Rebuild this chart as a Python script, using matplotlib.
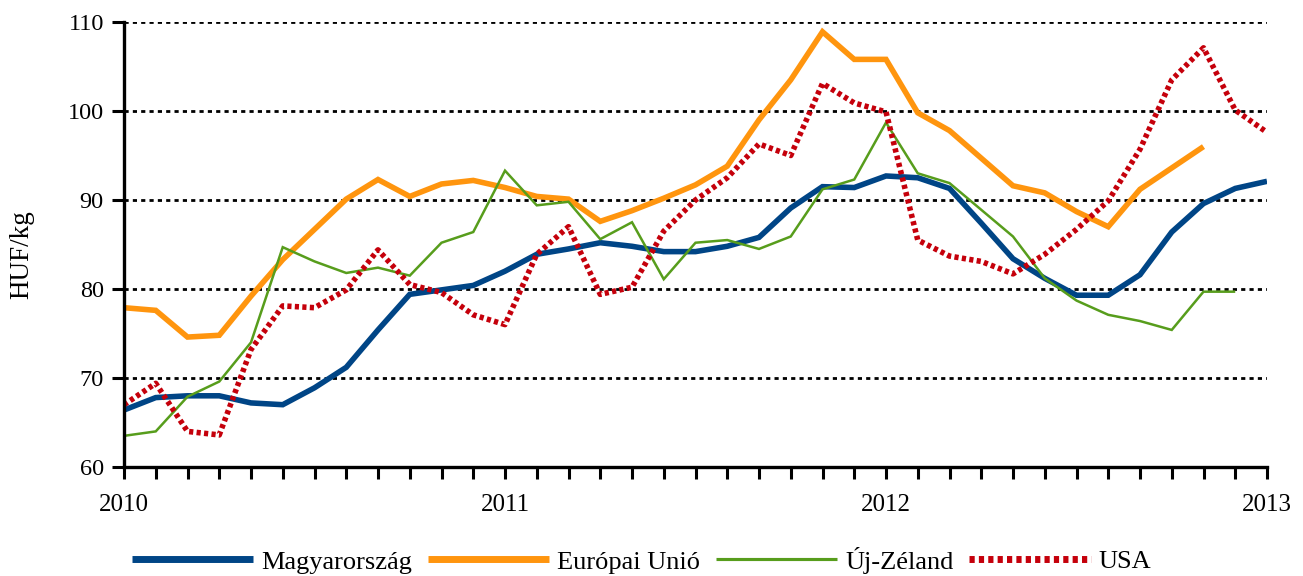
#!/usr/bin/env python3
"""Monthly producer prices (HUF/kg), 2010-2013, four markets."""
import matplotlib

matplotlib.use("Agg")
import matplotlib.pyplot as plt
from matplotlib.ticker import MultipleLocator

# Month index 0 = 2010 Jan, 36 = 2013 Jan.
YEAR_LABELS = ["2010", "2011", "2012", "2013"]

MAGYARORSZAG = [66.4, 67.8, 68.0, 68.0, 67.2, 67.0, 68.9, 71.2, 75.4, 79.4,
                79.9, 80.4, 82.0, 83.9, 84.5, 85.2, 84.8, 84.2, 84.2, 84.8,
                85.8, 89.1, 91.5, 91.4, 92.7, 92.5, 91.3, 87.4, 83.4, 81.2,
                79.3, 79.3, 81.6, 86.4, 89.6, 91.3, 92.1]
EUROPAI_UNIO = [77.9, 77.6, 74.6, 74.8, 79.2, 83.3, 86.7, 90.1, 92.3, 90.4,
                91.8, 92.2, 91.4, 90.4, 90.1, 87.6, 88.8, 90.2, 91.7, 93.8,
                99.0, 103.5, 108.9, 105.8, 105.8, 99.8, 97.8, 94.7, 91.6, 90.8,
                88.7, 87.0, 91.2, 93.6, 96.0]
UJ_ZELAND = [63.5, 64.0, 67.9, 69.6, 74.0, 84.7, 83.1, 81.8, 82.4, 81.5,
             85.2, 86.4, 93.3, 89.4, 89.8, 85.6, 87.5, 81.1, 85.2, 85.5,
             84.5, 85.9, 91.2, 92.3, 98.7, 93.0, 91.9, 88.9, 85.9, 81.2,
             78.7, 77.1, 76.4, 75.4, 79.7, 79.7]
USA = [67.0, 69.4, 64.0, 63.6, 73.2, 78.1, 77.9, 79.9, 84.4, 80.5,
       79.6, 77.1, 76.0, 83.9, 87.0, 79.4, 80.2, 86.5, 90.0, 92.5,
       96.3, 95.0, 103.1, 100.9, 99.9, 85.5, 83.7, 83.1, 81.7, 83.9,
       86.7, 89.9, 95.7, 103.5, 107.1, 100.1, 97.6]

SERIES = [
    ("Magyarország", MAGYARORSZAG, "#004586", 4.0, "-"),
    ("Európai Unió", EUROPAI_UNIO, "#ff950e", 4.0, "-"),
    ("Új-Zéland", UJ_ZELAND, "#579d1c", 1.8, "-"),
    ("USA", USA, "#c5000b", 4.0, (0, (0.75, 0.6))),
]

W, H = 1303, 576


def main():
    plt.rcParams["font.family"] = ["Liberation Serif", "DejaVu Serif"]
    fig = plt.figure(figsize=(W / 100, H / 100), dpi=100)
    ax = fig.add_axes([124 / W, 1 - 467 / H, (1267 - 124) / W, (467 - 22) / H])

    for label, ys, color, lw, ls in SERIES:
        ax.plot(range(len(ys)), ys, color=color, lw=lw, linestyle=ls,
                label=label, solid_joinstyle="miter", solid_capstyle="butt",
                dash_capstyle="butt")

    ax.set_xlim(0, 36)
    ax.set_ylim(60, 110)
    ax.set_xticks(range(0, 37, 12))
    ax.set_xticklabels(YEAR_LABELS)
    ax.xaxis.set_minor_locator(MultipleLocator(1))
    ax.set_yticks(range(60, 111, 10))

    ax.yaxis.grid(True, color="black", lw=2.0, linestyle=(0, (1.5, 1.5)))
    ax.set_axisbelow(True)
    for side in ("top", "right"):
        ax.spines[side].set_visible(False)
    for side in ("left", "bottom"):
        ax.spines[side].set_linewidth(2.4)
    ax.tick_params(axis="both", which="both", direction="out", width=2.2,
                   length=8.5, color="black")
    ax.tick_params(axis="y", labelsize=17.5, pad=6)
    ax.tick_params(axis="x", labelsize=18, pad=11)

    ax.set_ylabel("HUF/kg", fontsize=19.5)
    ax.yaxis.set_label_coords(-(124 - 34) / (1267 - 124), (467 - 255) / 445)

    leg = ax.legend(loc="center", bbox_to_anchor=(641.5 / W, 1 - 560 / H),
                    bbox_transform=fig.transFigure, ncol=4, frameon=False,
                    fontsize=19, handlelength=4.6, handletextpad=0.3,
                    columnspacing=0.6)
    # legend keys are drawn a bit heavier than the plotted lines
    for line in leg.get_lines():
        line.set_linewidth(line.get_linewidth() * 1.25)

    fig.savefig("out.png", dpi=100)
    plt.close(fig)


if __name__ == "__main__":
    main()
